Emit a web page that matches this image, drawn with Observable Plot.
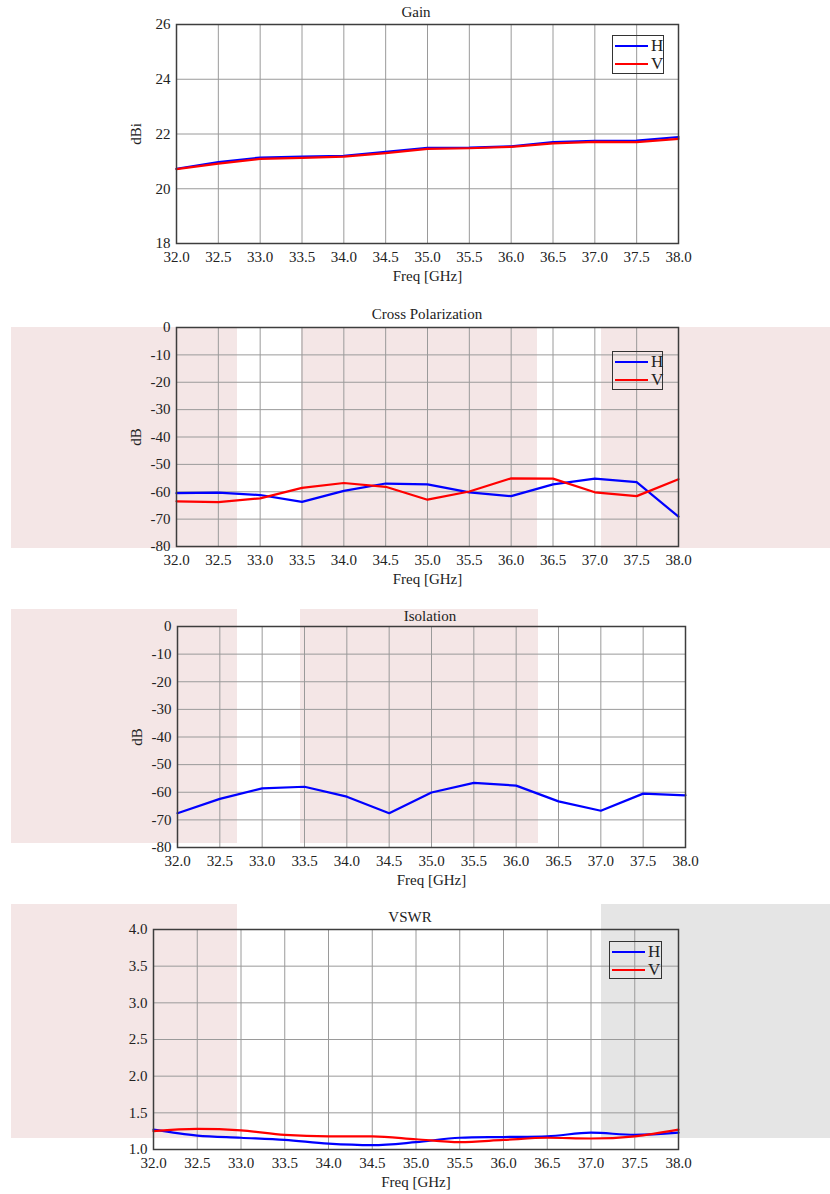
<!DOCTYPE html>
<html>
<head>
<meta charset="utf-8">
<script src="https://cdn.jsdelivr.net/npm/d3@7"></script>
<script src="https://cdn.jsdelivr.net/npm/@observablehq/plot@0.6"></script>
<style>
  html, body { margin: 0; padding: 0; background: #fff; }
  #page { position: relative; width: 830px; height: 1194px; overflow: hidden; font-family: "Liberation Serif", "Times New Roman", serif; color: #222; }
  #page svg, #page svg text { font-family: "Liberation Serif", "Times New Roman", serif !important; font-size: 15px; }
  .shade { position: absolute; z-index: 0; }
  .chart { position: absolute; left: 0; z-index: 1; }
  .title { position: absolute; z-index: 2; font-size: 15px; line-height: 16px; transform: translateX(-50%); white-space: nowrap; }
  .legend { position: absolute; z-index: 3; border: 1.5px solid #333; box-sizing: border-box; font-size: 17px; }
  .legend .row { position: absolute; left: 2px; height: 18px; display: flex; align-items: center; }
  .legend .sw { width: 33px; height: 2.5px; margin-right: 3px; }
</style>
</head>
<body>
<div id="page"></div>
<script>
// ---------- data ----------
const freq = [32.0, 32.5, 33.0, 33.5, 34.0, 34.5, 35.0, 35.5, 36.0, 36.5, 37.0, 37.5, 38.0];
const xTicks = [32.0, 32.5, 33.0, 33.5, 34.0, 34.5, 35.0, 35.5, 36.0, 36.5, 37.0, 37.5, 38.0];
const seriesNames = ["H", "V"];

const gainH = [20.73, 20.97, 21.14, 21.17, 21.20, 21.35, 21.49, 21.50, 21.55, 21.70, 21.75, 21.76, 21.89];
const gainV = [20.72, 20.92, 21.09, 21.13, 21.17, 21.30, 21.46, 21.48, 21.53, 21.66, 21.71, 21.70, 21.82];
const gainTicks = [18, 20, 22, 24, 26];

const xpolH = [-60.5, -60.3, -61.2, -63.7, -59.7, -57.0, -57.3, -60.2, -61.6, -57.3, -55.2, -56.5, -69.1];
const xpolV = [-63.5, -63.8, -62.4, -58.6, -56.8, -58.2, -62.9, -59.9, -55.1, -55.2, -60.2, -61.6, -55.4];
const dbTicks = [0, -10, -20, -30, -40, -50, -60, -70, -80];

const isoH = [-67.6, -62.4, -58.6, -58.0, -61.6, -67.6, -60.1, -56.6, -57.6, -63.3, -66.7, -60.5, -61.1];

const vswrH = [1.27, 1.19, 1.16, 1.13, 1.08, 1.06, 1.10, 1.16, 1.17, 1.18, 1.23, 1.20, 1.23];
const vswrV = [1.25, 1.28, 1.26, 1.20, 1.18, 1.18, 1.14, 1.10, 1.13, 1.16, 1.15, 1.18, 1.27];
const vswrTicks = [1.0, 1.5, 2.0, 2.5, 3.0, 3.5, 4.0];

const titles = ["Gain", "Cross Polarization", "Isolation", "VSWR"];
const xLabel = "Freq [GHz]";
const yLabels = ["dBi", "dB", "dB", null];

// ---------- layout / style ----------
const colors = {H: "#0000ff", V: "#ff0000"};
const PINK = "#f4e6e6", GREY = "#e5e5e5";

const charts = [
  {title: titles[0], titleX: 416, titleY: 4, frameTop: 24, frameBottom: 243, left: 176, right: 678,
   series: {H: gainH, V: gainV}, domain: [18, 26], ticks: gainTicks, fmt: d => String(d), yLabel: yLabels[0],
   curve: "linear", legend: {x: 612, y: 35, w: 52, h: 39},
   shades: []},
  {title: titles[1], titleX: 427, titleY: 306, frameTop: 327, frameBottom: 546, left: 176, right: 678,
   series: {H: xpolH, V: xpolV}, domain: [-80, 0], ticks: dbTicks, fmt: d => String(d), yLabel: yLabels[1],
   curve: "linear", legend: {x: 612, y: 351, w: 51, h: 39},
   shades: [[11, 237, 327, 548, PINK], [301, 537, 327, 548, PINK], [601, 830, 327, 548, PINK]]},
  {title: titles[2], titleX: 430, titleY: 608, frameTop: 626, frameBottom: 847, left: 177, right: 685,
   series: {H: isoH}, domain: [-80, 0], ticks: dbTicks, fmt: d => String(d), yLabel: yLabels[2],
   curve: "linear", legend: null,
   shades: [[11, 237, 609, 843, PINK], [300, 538, 609, 843, PINK]]},
  {title: titles[3], titleX: 410, titleY: 909, frameTop: 929, frameBottom: 1149, left: 153, right: 678,
   series: {H: vswrH, V: vswrV}, domain: [1, 4], ticks: vswrTicks, fmt: d => d.toFixed(1), yLabel: yLabels[3],
   curve: "monotone-x", legend: {x: 609, y: 941, w: 53, h: 38},
   shades: [[11, 237, 904, 1138, PINK], [601, 830, 904, 1138, GREY]]}
];

const page = document.getElementById("page");
const MT = 10, MB = 52;

for (const c of charts) {
  for (const [x0, x1, y0, y1, col] of c.shades) {
    const d = document.createElement("div");
    d.className = "shade";
    Object.assign(d.style, {left: x0 + "px", top: y0 + "px", width: (x1 - x0) + "px", height: (y1 - y0) + "px", background: col});
    page.appendChild(d);
  }

  const rows = [];
  for (const name of Object.keys(c.series)) {
    c.series[name].forEach((v, i) => rows.push({freq: freq[i], value: v, series: name}));
  }

  const marks = [
    Plot.gridX(xTicks, {stroke: "#9a9a9a", strokeOpacity: 1, strokeWidth: 1}),
    Plot.gridY(c.ticks, {stroke: "#9a9a9a", strokeOpacity: 1, strokeWidth: 1}),
    Plot.axisX(xTicks, {tickSize: 0, tickPadding: 8, label: null, tickFormat: d => d.toFixed(1), fill: "#222"}),
    Plot.axisY(c.ticks, {tickSize: 0, tickPadding: 6, label: null, tickFormat: c.fmt, fill: "#222"}),
    Plot.line(rows, {x: "freq", y: "value", z: "series", stroke: "series", strokeWidth: 2.2, curve: c.curve}),
    Plot.frame({stroke: "#3d3d3d", strokeWidth: 1.5}),
    Plot.text([xLabel], {frameAnchor: "bottom", dy: 33, text: d => d, lineAnchor: "middle", fill: "#222"})
  ];
  if (c.yLabel) {
    marks.push(Plot.text([c.yLabel], {frameAnchor: "left", dx: -40, rotate: -90, text: d => d, textAnchor: "middle", lineAnchor: "middle", fill: "#222"}));
  }

  const svg = Plot.plot({
    width: 830,
    height: MT + (c.frameBottom - c.frameTop) + MB,
    marginTop: MT, marginBottom: MB, marginLeft: c.left, marginRight: 830 - c.right,
    style: {fontFamily: "Liberation Serif, serif", fontSize: "15px", background: "transparent", overflow: "visible", color: "#222"},
    x: {domain: [32, 38]},
    y: {domain: c.domain},
    color: {domain: seriesNames, range: [colors.H, colors.V]},
    marks
  });
  const wrap = document.createElement("div");
  wrap.className = "chart";
  wrap.style.top = (c.frameTop - MT) + "px";
  wrap.appendChild(svg);
  page.appendChild(wrap);

  const t = document.createElement("div");
  t.className = "title";
  t.style.left = c.titleX + "px";
  t.style.top = c.titleY + "px";
  t.textContent = c.title;
  page.appendChild(t);

  if (c.legend) {
    const L = document.createElement("div");
    L.className = "legend";
    Object.assign(L.style, {left: c.legend.x + "px", top: c.legend.y + "px", width: c.legend.w + "px", height: c.legend.h + "px"});
    Object.keys(c.series).forEach((name, i) => {
      const r = document.createElement("div");
      r.className = "row";
      r.style.top = (1 + i * 18) + "px";
      const sw = document.createElement("span");
      sw.className = "sw";
      sw.style.background = colors[name];
      const lab = document.createElement("span");
      lab.textContent = name;
      r.appendChild(sw); r.appendChild(lab);
      L.appendChild(r);
    });
    page.appendChild(L);
  }
}
</script>
</body>
</html>
